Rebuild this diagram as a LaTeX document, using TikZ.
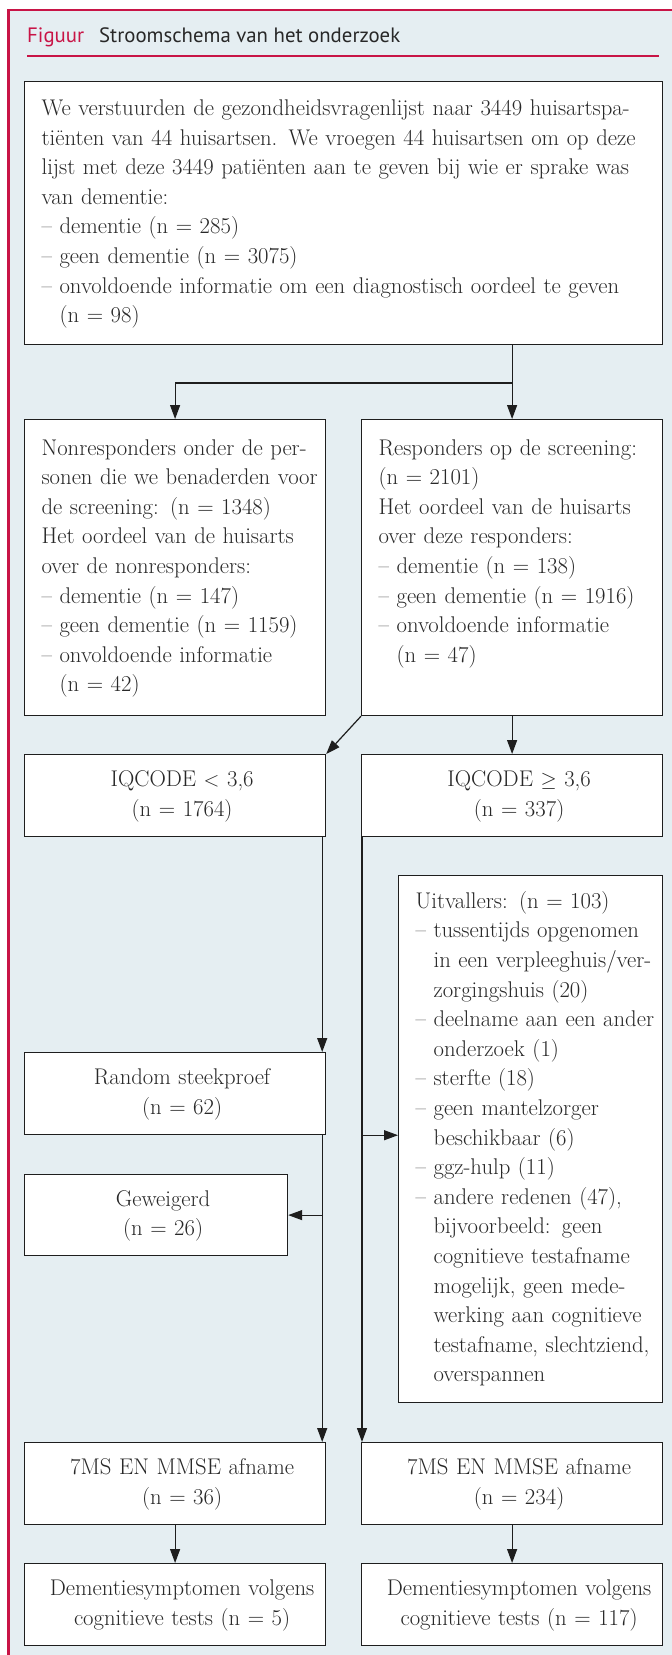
\documentclass[tikz,border=0pt]{standalone}
\usepackage{fontspec}
\usepackage{tikz}
\usetikzlibrary{arrows.meta}
\newfontfamily\titlefont{PT Sans}
\definecolor{crimson}{RGB}{200,20,70}
\definecolor{bgblue}{RGB}{229,238,242}
\definecolor{textgrey}{RGB}{40,40,40}
\definecolor{linegrey}{RGB}{30,30,30}
\newcommand{\bodyfont}{\fontsize{22.7}{29.6}\selectfont}
\newcommand{\rows}[1]{\begin{tabular}{@{}l@{}}#1\end{tabular}}
\newcommand{\crows}[1]{\hspace*{14pt}\begin{tabular}{@{}c@{}}#1\end{tabular}}
\newcommand{\ind}{\phantom{– }}

\begin{document}
\begin{tikzpicture}[x=1pt,y=1pt,yscale=-1,xscale=1,
    box/.style={draw=linegrey, line width=1.2pt, fill=white, anchor=north west, inner sep=0pt, text=textgrey, font=\bodyfont},
    lbox/.style={box, align=left},
    cbox/.style={box, align=center},
    arr/.style={draw=linegrey, line width=1.2pt, -{Triangle[length=14pt,width=10pt]}}]
    \useasboundingbox (0,0) rectangle (672,1655);

    %Shape: Frame
    \fill[bgblue] (8.6,10) rectangle (672,1655);
    \draw[crimson, line width=2.5pt] (8.6,1655) -- (8.6,10) -- (672,10);

    % Text Node
    \node[anchor=base west, inner sep=0pt, text=crimson, font=\titlefont\fontsize{20.8}{24}\selectfont] (fig) at (27,42) {Figuur};
    % Text Node
    \node[anchor=base west, inner sep=0pt, text=textgrey, font=\titlefont\fontsize{20.8}{24}\selectfont] (title) at (99,42) {Stroomschema van het onderzoek};
    \draw[crimson, line width=1.2pt] (27,56) -- (659,56);

    %Shape: Rectangle
    \node[lbox, text width=638pt, minimum height=263pt] (screen) at (24,81) {\hspace*{17pt}\rows{%
      We verstuurden de gezondheidsvragenlijst naar 3449 huisartspa-\\
      tiënten van 44 huisartsen. We vroegen 44 huisartsen om op deze\\
      lijst met deze 3449 patiënten aan te geven bij wie er sprake was\\
      van dementie:\\
      – dementie (n = 285)\\
      – geen dementie (n = 3075)\\
      – onvoldoende informatie om een diagnostisch oordeel te geven\\
      \ind(n = 98)}};
    %Shape: Rectangle
    \node[lbox, text width=301pt, minimum height=296pt] (nonresp) at (24,419) {\hspace*{17pt}\rows{%
      Nonresponders onder de per-\\
      sonen die we benaderden voor\\
      de screening: (n = 1348)\\
      Het oordeel van de huisarts\\
      over de nonresponders:\\
      – dementie (n = 147)\\
      – geen dementie (n = 1159)\\
      – onvoldoende informatie\\
      \ind(n = 42)}};
    %Shape: Rectangle
    \node[lbox, text width=301pt, minimum height=296pt] (resp) at (361,419) {\hspace*{17pt}\rows{%
      Responders op de screening:\\
      (n = 2101)\\
      Het oordeel van de huisarts\\
      over deze responders:\\
      – dementie (n = 138)\\
      – geen dementie (n = 1916)\\
      – onvoldoende informatie\\
      \ind(n = 47)\\
      \mbox{}}};
    %Shape: Rectangle
    \node[cbox, text width=301pt, minimum height=82pt] (iqlow) at (24,754) {\crows{IQCODE $<$ 3,6\\(n = 1764)}};
    %Shape: Rectangle
    \node[cbox, text width=301pt, minimum height=82pt] (iqhigh) at (361,754) {\crows{IQCODE $\geq$ 3,6\\(n = 337)}};
    %Shape: Rectangle
    \node[lbox, text width=264pt, minimum height=527pt] (uitval) at (398,875) {\hspace*{17pt}\rows{%
      Uitvallers: (n = 103)\\
      – tussentijds opgenomen\\
      \ind in een verpleeghuis/ver-\\
      \ind zorgingshuis (20)\\
      – deelname aan een ander\\
      \ind onderzoek (1)\\
      – sterfte (18)\\
      – geen mantelzorger\\
      \ind beschikbaar (6)\\
      – ggz-hulp (11)\\
      – andere redenen (47),\\
      \ind bijvoorbeeld: geen\\
      \ind cognitieve testafname\\
      \ind mogelijk, geen mede-\\
      \ind werking aan cognitieve\\
      \ind testafname, slechtziend,\\
      \ind overspannen}};
    %Shape: Rectangle
    \node[cbox, text width=301pt, minimum height=82pt] (random) at (24,1052) {\crows{Random steekproef\\(n = 62)}};
    %Shape: Rectangle
    \node[cbox, text width=263pt, minimum height=81pt] (refused) at (24,1174) {\crows{Geweigerd\\(n = 26)}};
    %Shape: Rectangle
    \node[cbox, text width=301pt, minimum height=82pt] (testleft) at (24,1442) {\crows{7MS EN MMSE afname\\(n = 36)}};
    %Shape: Rectangle
    \node[cbox, text width=301pt, minimum height=82pt] (testright) at (361,1442) {\crows{7MS EN MMSE afname\\(n = 234)}};
    %Shape: Rectangle
    \node[cbox, text width=301pt, minimum height=82pt] (demleft) at (24,1563) {\crows{Dementiesymptomen volgens\\cognitieve tests (n = 5)}};
    %Shape: Rectangle
    \node[cbox, text width=301pt, minimum height=82pt] (demright) at (361,1563) {\crows{Dementiesymptomen volgens\\cognitieve tests (n = 117)}};

    %Straight Lines
    \coordinate (split) at (511.5,383);
    \draw[arr] (screen.south -| resp.north) -- (resp.north);
    \draw[arr] (split) -| (nonresp.north);
    \draw[arr] (resp.south west) -- (iqlow.north east);
    \draw[arr] (resp.south) -- (iqhigh.north);
    \draw[arr] ([xshift=-4pt]iqlow.south east) -- ([xshift=-4pt]random.north east);
    \draw[arr] ([xshift=-4pt]random.south east) -- ([xshift=-4pt]testleft.north east);
    \draw[arr] ([xshift=-4pt]random.south east |- refused.east) -- (refused.east);
    \draw[arr] ([xshift=1pt]iqhigh.south west) -- ([xshift=1pt]testright.north west);
    \draw[arr] ([xshift=1pt]iqhigh.south west |- random.south) -- (uitval.west |- random.south);
    \draw[arr] (testleft.south) -- (demleft.north);
    \draw[arr] (testright.south) -- (demright.north);
\end{tikzpicture}
\end{document}
